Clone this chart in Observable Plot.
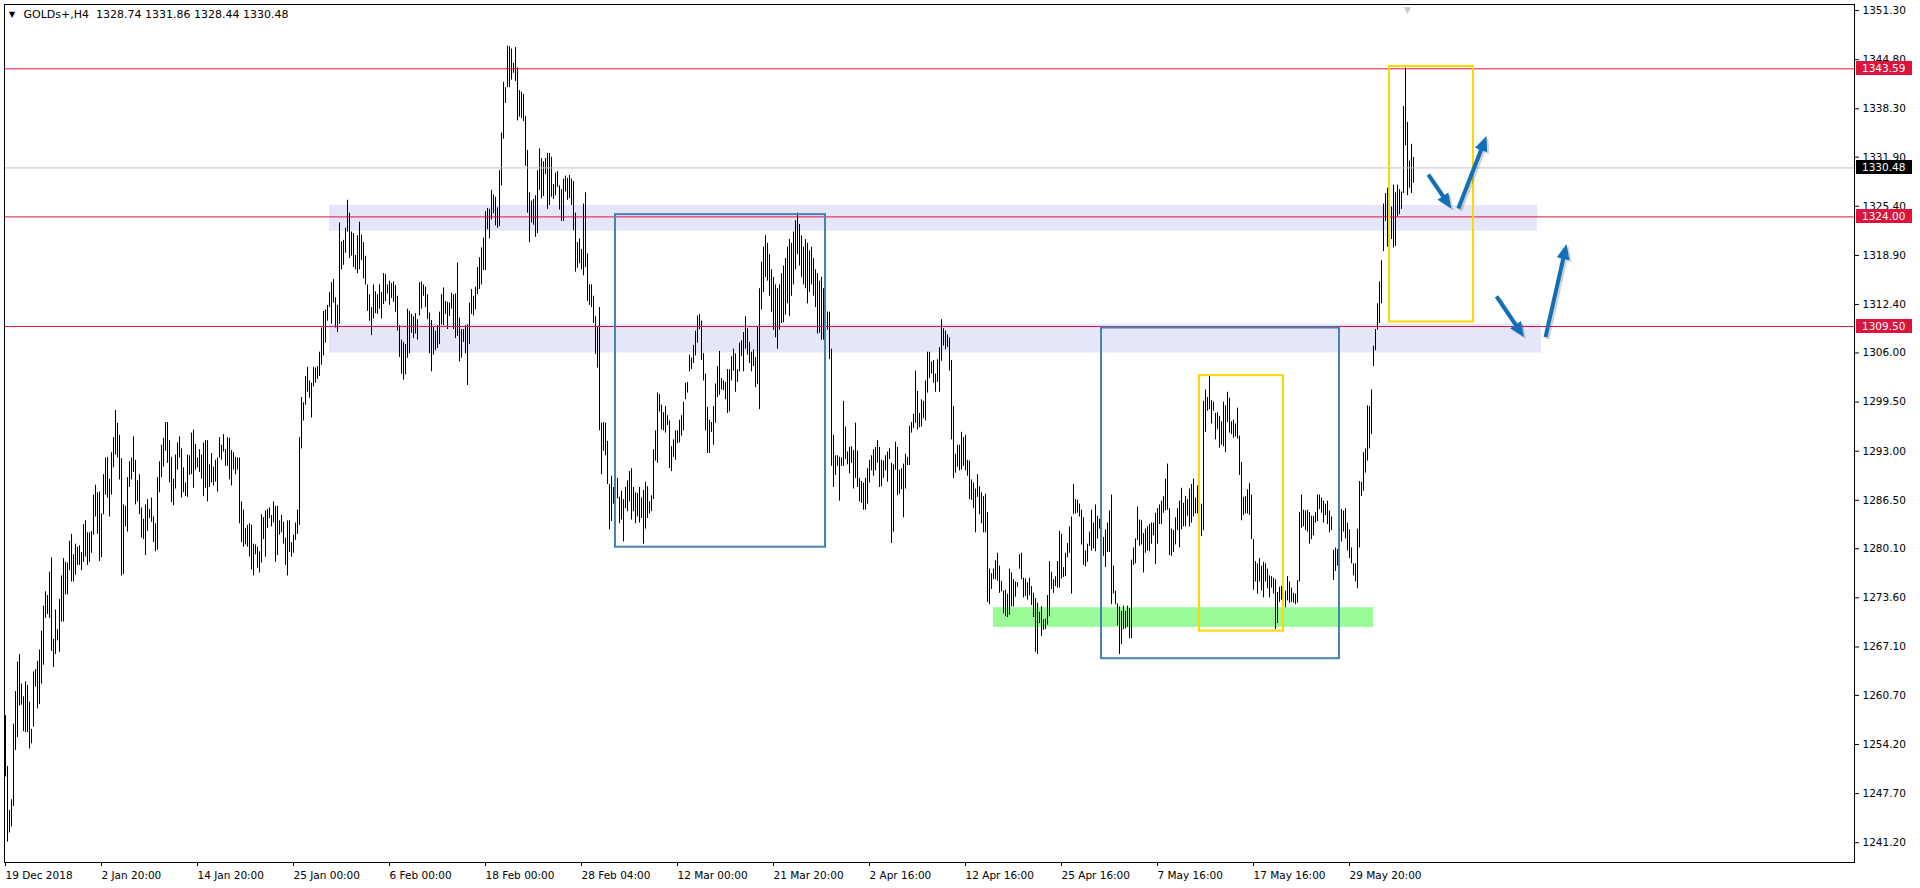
<!DOCTYPE html>
<html><head><meta charset="utf-8">
<script src="https://cdn.jsdelivr.net/npm/d3@7"></script>
<script src="https://cdn.jsdelivr.net/npm/@observablehq/plot@0.6"></script>
<style>html,body{margin:0;padding:0;background:#fff;overflow:hidden}svg{display:block}</style>
</head><body><div id="chart"></div><script>
// H4 bars, in order (bar index 0 = 19 Dec 2018)
const highs = [
1258.0,1251.3,1245.5,1246.9,1256.9,1261.2,1265.1,1266.1,1262.2,1260.5,
1262.5,1262.0,1259.8,1256.2,1263.8,1264.1,1265.2,1266.7,1269.2,1272.5,
1274.4,1273.9,1277.0,1278.9,1268.1,1272.0,1269.4,1273.4,1276.5,1278.8,
1278.3,1278.2,1281.1,1282.0,1279.3,1280.7,1280.3,1280.5,1279.6,1283.3,
1283.8,1282.2,1282.2,1282.4,1287.2,1288.5,1287.5,1287.6,1284.7,1289.9,
1292.1,1292.2,1289.3,1292.8,1294.8,1298.4,1296.7,1295.1,1292.0,1285.9,
1285.7,1289.5,1291.6,1292.1,1294.9,1291.8,1289.1,1289.9,1285.5,1284.0,
1285.9,1286.6,1285.3,1286.8,1284.3,1283.4,1289.5,1291.6,1293.8,1294.7,
1296.8,1296.8,1294.4,1292.2,1289.3,1292.5,1294.1,1294.9,1293.3,1290.8,
1288.8,1292.5,1292.4,1295.4,1295.8,1293.9,1292.1,1293.2,1292.5,1294.1,
1294.4,1294.4,1291.2,1292.7,1290.9,1291.8,1292.1,1294.8,1293.8,1295.2,
1293.2,1294.8,1294.7,1293.1,1292.8,1292.2,1292.1,1292.1,1286.3,1285.2,
1282.8,1283.2,1283.4,1283.2,1280.7,1280.6,1280.3,1279.7,1284.6,1284.2,
1285.1,1285.3,1285.5,1284.5,1286.3,1285.7,1285.7,1283.8,1284.5,1283.6,
1281.5,1283.8,1283.8,1280.9,1281.9,1283.5,1285.2,1294.8,1300.1,1299.4,
1302.9,1304.1,1302.3,1302.0,1304.1,1304.0,1304.2,1306.1,1309.3,1311.5,
1311.7,1312.3,1314.0,1315.3,1315.7,1313.3,1312.3,1323.2,1320.7,1320.9,
1322.5,1326.2,1324.5,1322.0,1321.8,1318.9,1321.5,1323.3,1321.6,1320.6,
1318.8,1315.0,1313.7,1312.0,1315.0,1314.1,1313.7,1315.0,1314.0,1316.5,
1316.4,1315.0,1315.5,1315.2,1315.4,1314.9,1313.5,1309.6,1307.7,1307.4,
1307.1,1311.8,1311.5,1311.1,1310.8,1311.2,1310.4,1315.3,1315.4,1315.0,
1314.7,1313.7,1311.3,1310.3,1309.4,1308.9,1309.6,1311.4,1313.7,1314.6,
1312.8,1312.7,1312.6,1313.9,1313.7,1313.8,1317.9,1310.6,1309.1,1309.1,
1309.6,1309.7,1312.6,1314.4,1313.5,1314.7,1317.3,1318.6,1319.9,1321.2,
1324.7,1325.1,1325.0,1327.5,1326.9,1326.6,1325.2,1330.1,1335.1,1341.8,
1341.1,1346.6,1346.5,1346.2,1344.3,1346.4,1343.7,1340.7,1340.5,1340.2,
1337.3,1332.8,1327.2,1326.1,1326.3,1326.8,1330.1,1333.0,1331.7,1331.3,
1331.7,1332.4,1332.4,1331.9,1328.3,1329.8,1330.0,1328.1,1327.6,1329.0,
1329.4,1329.1,1329.5,1329.0,1328.7,1324.5,1320.6,1321.1,1319.7,1325.7,
1327.2,1319.1,1315.0,1315.0,1313.5,1310.8,1309.4,1312.0,1296.7,1296.8,
1296.7,1294.3,1288.6,1289.7,1288.2,1289.3,1289.4,1286.9,1287.7,1286.6,
1288.2,1289.1,1290.3,1290.7,1288.2,1287.5,1287.4,1288.2,1286.8,1287.8,
1288.9,1288.3,1286.3,1287.1,1293.2,1295.7,1300.7,1300.5,1299.1,1298.1,
1298.9,1297.7,1297.0,1293.6,1294.5,1295.7,1295.7,1297.1,1297.7,1299.5,
1302.0,1302.1,1305.7,1305.3,1307.0,1308.9,1310.9,1311.1,1310.2,1305.9,
1303.2,1298.8,1297.1,1296.8,1298.9,1301.9,1304.2,1306.2,1302.6,1302.3,
1302.1,1303.8,1303.8,1305.5,1306.5,1305.9,1303.8,1307.3,1307.6,1308.7,
1310.8,1309.2,1307.4,1306.1,1306.4,1305.4,1309.4,1314.5,1318.0,1320.0,
1321.5,1320.5,1319.0,1317.0,1316.0,1315.0,1314.5,1315.0,1316.5,1317.5,
1318.5,1320.0,1321.0,1320.5,1322.0,1323.5,1324.5,1323.0,1321.5,1320.0,
1321.0,1320.5,1319.5,1320.0,1318.5,1317.0,1316.5,1315.5,1316.0,1314.5,
1314.0,1311.4,1311.4,1306.5,1295.1,1292.4,1292.4,1292.2,1292.1,1299.6,
1296.2,1292.9,1293.5,1293.6,1293.1,1296.7,1293.0,1289.4,1289.0,1288.8,
1289.4,1290.7,1291.8,1292.4,1293.2,1293.5,1294.4,1293.5,1291.8,1291.7,
1292.4,1292.9,1293.3,1291.4,1291.2,1294.2,1293.5,1290.5,1290.7,1291.3,
1292.6,1292.2,1296.3,1296.8,1297.9,1303.6,1300.9,1298.0,1299.8,1299.6,
1302.3,1306.1,1306.1,1304.8,1305.0,1303.2,1305.1,1306.7,1310.4,1309.2,
1308.9,1308.4,1308.0,1305.0,1298.9,1292.6,1293.8,1293.8,1295.5,1294.8,
1295.1,1291.8,1291.7,1289.2,1288.8,1288.0,1289.9,1288.3,1287.5,1287.0,
1287.3,1284.9,1277.4,1276.8,1277.4,1278.5,1279.5,1277.8,1275.8,1274.5,
1274.6,1274.1,1277.4,1276.9,1276.0,1275.7,1275.6,1279.3,1279.5,1276.2,
1276.1,1275.6,1276.2,1275.1,1274.2,1273.5,1272.9,1271.7,1272.4,1270.7,
1270.8,1273.9,1278.4,1277.0,1276.0,1276.4,1278.4,1282.4,1282.0,1277.6,
1279.5,1280.8,1283.0,1284.3,1288.6,1286.6,1286.5,1286.0,1285.2,1284.2,
1279.8,1280.7,1282.3,1285.2,1283.5,1285.9,1284.4,1284.0,1283.8,1281.6,
1282.6,1283.5,1285.1,1287.2,1277.8,1274.5,1272.8,1272.4,1271.8,1272.5,
1271.8,1272.5,1272.2,1278.6,1280.2,1281.4,1285.6,1283.9,1283.8,1282.1,
1282.7,1283.0,1283.3,1283.5,1283.5,1284.8,1285.4,1285.9,1286.4,1287.0,
1289.3,1291.3,1285.4,1282.7,1282.5,1284.2,1285.4,1286.4,1288.1,1286.1,
1287.0,1286.6,1288.0,1288.6,1289.3,1286.8,1288.4,1284.4,1286.0,1299.6,
1301.1,1300.1,1303.0,1299.7,1299.5,1298.0,1298.1,1297.6,1296.9,1299.5,
1299.0,1300.8,1300.0,1296.9,1297.1,1296.6,1298.7,1295.0,1291.5,1286.9,
1287.0,1287.9,1288.7,1287.2,1281.3,1278.4,1278.1,1278.8,1277.8,1278.3,
1278.1,1277.4,1276.5,1276.4,1276.2,1276.0,1274.3,1275.0,1275.1,1273.9,
1274.5,1276.4,1275.7,1274.9,1274.2,1274.1,1275.9,1284.9,1287.2,1285.2,
1285.1,1285.2,1284.9,1284.4,1284.4,1284.9,1287.2,1287.2,1286.8,1286.4,
1286.0,1286.4,1285.1,1284.3,1279.9,1280.2,1280.0,1281.4,1285.3,1285.1,
1285.4,1283.5,1282.6,1280.2,1278.1,1278.1,1282.7,1289.0,1288.9,1292.8,
1293.3,1299.0,1298.9,1301.1,1306.9,1309.1,1312.5,1315.4,1318.2,1325.7,
1327.1,1327.8,1329.0,1325.3,1328.2,1327.2,1328.2,1327.6,1327.3,1338.6,
1343.7,1336.5,1331.4,1333.6,1331.86
];
const lows = [
1249.9,1241.3,1242.5,1243.3,1246.0,1253.4,1255.1,1259.3,1259.4,1255.9,
1255.8,1255.8,1253.6,1254.3,1256.5,1261.8,1258.9,1259.5,1262.2,1264.7,
1270.9,1271.4,1270.9,1266.5,1264.4,1266.1,1267.9,1266.4,1270.4,1270.4,
1274.0,1274.0,1277.2,1275.7,1275.7,1276.6,1277.9,1277.9,1277.2,1278.3,
1279.0,1277.9,1278.3,1279.5,1281.9,1284.3,1282.0,1278.4,1278.9,1284.6,
1287.2,1286.8,1284.3,1287.2,1290.8,1292.5,1292.1,1289.2,1276.5,1276.7,
1283.0,1282.3,1288.2,1289.2,1290.2,1285.9,1286.3,1284.6,1281.5,1281.3,
1279.2,1282.4,1284.1,1283.6,1280.9,1279.7,1279.9,1287.5,1289.5,1290.9,
1293.0,1291.4,1288.8,1286.2,1285.8,1288.0,1290.5,1292.1,1286.8,1287.5,
1287.0,1286.9,1289.8,1289.9,1288.1,1290.5,1290.8,1290.2,1289.3,1287.0,
1288.1,1286.3,1288.2,1288.8,1288.4,1288.9,1287.6,1292.1,1291.8,1292.9,
1291.0,1291.0,1289.2,1288.4,1290.5,1289.9,1290.5,1283.4,1280.9,1280.3,
1280.6,1280.3,1279.0,1277.3,1276.5,1279.3,1277.5,1276.9,1278.2,1281.3,
1279.0,1282.8,1284.1,1283.0,1283.5,1278.3,1279.2,1281.9,1282.2,1280.7,
1277.9,1276.5,1279.6,1279.0,1279.5,1281.2,1282.0,1283.2,1293.3,1297.0,
1299.1,1300.8,1300.0,1297.4,1301.5,1302.0,1302.5,1302.9,1304.4,1305.6,
1307.3,1310.2,1312.0,1309.8,1312.6,1309.3,1308.7,1309.8,1317.0,1317.6,
1319.2,1322.0,1318.5,1318.8,1317.3,1317.0,1316.5,1317.0,1318.2,1315.8,
1315.0,1311.5,1310.2,1308.3,1310.5,1311.2,1311.1,1311.8,1310.5,1312.4,
1312.8,1313.8,1312.3,1313.2,1312.7,1311.4,1308.9,1305.4,1303.2,1302.4,
1303.1,1305.3,1305.9,1308.6,1307.9,1308.5,1307.7,1310.9,1311.8,1313.5,
1312.0,1310.4,1305.9,1303.5,1305.7,1306.3,1306.6,1307.1,1309.7,1309.6,
1311.1,1309.1,1310.8,1311.8,1309.1,1307.9,1308.2,1304.8,1305.3,1307.4,
1305.9,1301.7,1307.1,1311.1,1310.9,1311.7,1313.7,1314.4,1315.0,1316.9,
1316.9,1322.3,1321.1,1323.6,1324.4,1322.8,1322.5,1322.7,1328.1,1334.3,
1339.0,1341.1,1341.1,1342.1,1343.0,1341.9,1336.7,1337.2,1337.0,1336.6,
1330.7,1324.5,1320.6,1323.2,1322.9,1321.3,1321.8,1327.5,1326.4,1326.7,
1329.6,1325.0,1325.5,1326.6,1326.3,1326.8,1327.9,1324.9,1323.4,1323.4,
1327.3,1326.2,1326.4,1325.5,1322.2,1316.7,1317.2,1317.8,1317.0,1316.2,
1317.3,1312.8,1312.3,1312.0,1309.9,1305.8,1304.0,1295.7,1289.9,1293.0,
1292.4,1288.6,1282.6,1283.7,1286.0,1286.2,1286.7,1283.4,1283.9,1281.0,
1285.4,1285.0,1286.3,1283.9,1285.0,1283.4,1284.3,1283.5,1284.1,1280.7,
1282.7,1284.1,1284.7,1285.0,1286.6,1291.7,1291.4,1298.2,1295.8,1295.7,
1295.4,1296.4,1290.7,1290.3,1292.2,1291.8,1294.0,1294.1,1295.0,1295.7,
1299.8,1300.7,1303.5,1303.8,1304.6,1305.6,1307.3,1309.1,1305.0,1302.3,
1295.7,1292.7,1292.7,1295.5,1293.8,1296.7,1300.1,1300.4,1301.1,1301.0,
1299.8,1298.0,1298.2,1302.3,1303.6,1300.8,1302.1,1303.5,1305.5,1303.5,
1306.5,1305.7,1304.6,1303.5,1304.2,1301.4,1301.8,1298.5,1311.7,1314.0,
1316.0,1315.5,1313.5,1311.4,1309.0,1308.0,1306.5,1309.0,1309.9,1310.0,
1311.0,1312.5,1310.8,1313.5,1315.0,1317.0,1319.0,1317.5,1316.0,1315.0,
1314.5,1312.5,1314.0,1315.0,1313.5,1312.0,1308.5,1308.6,1307.7,1307.7,
1307.7,1309.0,1305.1,1291.0,1288.2,1289.8,1291.0,1286.4,1291.0,1291.0,
1291.9,1291.2,1290.0,1291.4,1288.0,1289.4,1288.2,1286.3,1286.1,1285.2,
1285.2,1286.0,1288.8,1290.4,1289.7,1290.4,1291.4,1288.2,1288.3,1289.4,
1290.4,1288.9,1291.9,1280.8,1282.3,1290.5,1287.1,1287.3,1287.9,1284.2,
1288.0,1291.1,1291.1,1295.4,1296.0,1296.7,1295.8,1296.1,1296.2,1297.3,
1297.0,1300.7,1302.6,1303.2,1302.0,1300.8,1302.1,1300.8,1304.9,1306.9,
1306.4,1306.7,1303.6,1294.5,1289.4,1290.1,1290.9,1290.4,1290.5,1291.0,
1290.4,1289.7,1286.6,1286.5,1285.4,1282.2,1286.9,1284.6,1283.4,1282.2,
1282.2,1273.0,1272.7,1274.7,1276.0,1276.0,1275.8,1274.2,1274.4,1271.5,
1271.1,1271.0,1271.3,1272.4,1272.4,1273.7,1275.0,1277.4,1276.0,1273.6,
1273.8,1273.3,1273.9,1272.6,1271.0,1266.4,1266.1,1270.2,1268.5,1269.3,
1269.4,1270.0,1271.1,1274.7,1274.2,1275.1,1274.9,1274.9,1276.1,1276.3,
1276.4,1278.9,1279.5,1274.1,1284.6,1284.7,1284.8,1284.3,1280.6,1277.9,
1277.7,1278.3,1280.4,1279.8,1280.1,1279.7,1281.4,1282.7,1280.6,1279.1,
1277.6,1279.6,1279.6,1272.7,1274.1,1272.7,1269.9,1266.1,1267.4,1269.4,
1269.5,1269.7,1268.2,1268.2,1277.9,1278.1,1281.2,1280.4,1280.6,1276.9,
1279.5,1279.8,1279.7,1280.7,1281.8,1278.0,1280.7,1283.3,1283.3,1284.8,
1285.1,1285.2,1279.2,1279.1,1279.6,1280.6,1282.5,1280.2,1282.6,1283.0,
1283.0,1284.4,1283.0,1283.5,1284.3,1284.7,1284.7,1281.4,1281.7,1282.5,
1295.5,1298.3,1298.5,1296.6,1298.3,1294.5,1295.9,1293.4,1293.8,1293.6,
1292.8,1296.8,1295.4,1295.2,1294.7,1294.9,1294.6,1289.8,1283.8,1284.5,
1284.7,1284.7,1284.5,1281.3,1274.6,1275.7,1274.1,1275.7,1274.5,1273.6,
1275.7,1274.8,1273.6,1274.9,1274.1,1269.4,1270.2,1273.0,1273.3,1272.8,
1272.3,1273.2,1272.9,1273.0,1272.9,1272.7,1272.9,1275.7,1282.8,1283.0,
1282.5,1282.3,1280.7,1281.3,1281.8,1283.5,1283.7,1285.3,1284.8,1283.5,
1284.5,1283.3,1282.2,1282.5,1275.9,1277.1,1277.8,1278.1,1281.0,1282.3,
1281.4,1279.8,1278.8,1278.1,1276.5,1275.7,1274.8,1280.2,1287.0,1287.7,
1290.1,1291.7,1293.3,1295.2,1304.2,1306.3,1309.0,1309.9,1312.5,1319.4,
1323.4,1320.0,1322.4,1321.0,1319.9,1320.1,1324.0,1324.3,1325.0,1327.1,
1333.4,1326.8,1327.8,1327.1,1328.44
];

const yTicks = [1351.30,1344.80,1338.30,1331.90,1325.40,1318.90,1312.40,1306.00,1299.50,1293.00,1286.50,1280.10,1273.60,1267.10,1260.70,1254.20,1247.70,1241.20];
const xTickIdx = [0,48,96,144,192,240,288,336,384,432,480,528,576,624,672];
const xTickLabels = ["19 Dec 2018","2 Jan 20:00","14 Jan 20:00","25 Jan 00:00","6 Feb 00:00","18 Feb 00:00","28 Feb 04:00","12 Mar 00:00","21 Mar 20:00","2 Apr 16:00","12 Apr 16:00","25 Apr 16:00","7 May 16:00","17 May 16:00","29 May 20:00"];

const symbolInfo = ["GOLDs+,H4  1328.74 1331.86 1328.44 1330.48"];
const redLevels = [1343.59, 1324.00, 1309.50];
const currentPrice = [1330.48];
const shiftMarker = [701];

// annotation objects in (bar index, price)
const lavenderZones = [
  {from:162, to:766, lo:1322.1, hi:1325.5},
  {from:162, to:768, lo:1306.0, hi:1309.8}
];
const greenZones = [{from:494, to:684, lo:1269.7, hi:1272.3}];
const blueBoxes = [
  {from:305, to:410, lo:1280.3, hi:1324.3},
  {from:548, to:667, lo:1265.55, hi:1309.3}
];
const yellowBoxes = [
  {from:597, to:639, lo:1269.2, hi:1303.0},
  {from:692, to:734, lo:1310.1, hi:1343.9}
];
const arrowsData = [
  {i1:711.4, p1:1329.6, i2:722.9, p2:1325.1},
  {i1:726.4, p1:1325.1, i2:740.5, p2:1334.7},
  {i1:745.5, p1:1313.5, i2:759.2, p2:1308.1},
  {i1:770.0, p1:1308.1, i2:780.5, p2:1320.4}
];
const priceTags = [1343.59, 1330.48, 1324.00, 1309.50];
const priceTagKinds = ["level","current","level","level"];

const bars = highs.map((h, i) => ({i, high: h, low: lows[i]}));
const labelMap = new Map(xTickIdx.map((d, k) => [d, xTickLabels[k]]));

const FONT = "'DejaVu Sans', Verdana, sans-serif";
const base = {
  width: 1920, height: 888,
  marginTop: 4, marginBottom: 26, marginLeft: 4, marginRight: 66,
  x: {type: "linear", domain: [-0.5, 924.5], label: null},
  y: {type: "linear", domain: [1238.59, 1352.1], label: null}
};

// first pass: read the scales to orient the arrow shapes in screen space
const pre = Plot.plot({...base, marks: [Plot.frame()]});
const px = pre.scale("x"), py = pre.scale("y");
const arrowVecs = arrowsData.map(a => {
  const dx = px.apply(a.i2) - px.apply(a.i1);
  const dy = py.apply(a.p2) - py.apply(a.p1);
  return {i: a.i1, p: a.p1, len: Math.hypot(dx, dy), rot: Math.atan2(dx, -dy) * 180 / Math.PI};
});
const arrowShape = {
  draw(ctx, l) {
    const hl = 15, hw = 6.5, sw = 2;
    ctx.moveTo(-sw, 0);
    ctx.lineTo(-sw, -l + hl);
    ctx.lineTo(-hw, -l + hl);
    ctx.lineTo(0, -l);
    ctx.lineTo(hw, -l + hl);
    ctx.lineTo(sw, -l + hl);
    ctx.lineTo(sw, 0);
    ctx.closePath();
  }
};

const plot = Plot.plot({
  ...base,
  length: {type: "linear", domain: [0, 1], range: [0, 1]},
  style: {fontFamily: FONT, fontSize: "10.5px", color: "#000", background: "#fff"},
  marks: [
    Plot.rect(lavenderZones, {x1: "from", x2: "to", y1: "lo", y2: "hi", fill: "#e6e6fa"}),
    Plot.rect(greenZones, {x1: "from", x2: "to", y1: "lo", y2: "hi", fill: "#98fb98"}),
    Plot.ruleX(bars, {x: "i", y1: "low", y2: "high", stroke: "#000", strokeWidth: 1}),
    Plot.ruleY(currentPrice, {stroke: "#c0c0c0"}),
    Plot.ruleY(redLevels, {stroke: "#dc143c"}),
    Plot.rect(blueBoxes, {x1: "from", x2: "to", y1: "lo", y2: "hi", fill: "none", stroke: "#4682b4", strokeWidth: 2}),
    Plot.rect(yellowBoxes, {x1: "from", x2: "to", y1: "lo", y2: "hi", fill: "none", stroke: "#ffd700", strokeWidth: 2}),
    Plot.vector(arrowVecs, {x: "i", y: "p", length: "len", rotate: "rot", anchor: "start", shape: arrowShape, fill: "#000", fillOpacity: 0.18, stroke: "none", dx: 2, dy: 2}),
    Plot.vector(arrowVecs, {x: "i", y: "p", length: "len", rotate: "rot", anchor: "start", shape: arrowShape, fill: "#0f70b8", stroke: "none"}),
    Plot.frame({stroke: "#000"}),
    Plot.axisY({anchor: "right", ticks: yTicks, tickFormat: d => d.toFixed(2), tickSize: 4, tickPadding: 4, label: null}),
    Plot.axisX({anchor: "bottom", ticks: xTickIdx, tickFormat: d => labelMap.get(d), tickSize: 4, tickPadding: 5, textAnchor: "start", label: null}),
    Plot.text(symbolInfo, {frameAnchor: "top-left", text: d => d, dx: 19, dy: 6, textAnchor: "start", lineAnchor: "top", fontSize: 11, fill: "#000"}),
    Plot.text(symbolInfo, {frameAnchor: "top-left", text: () => "\u25BC", dx: 7.5, dy: 10, textAnchor: "middle", lineAnchor: "middle", fontSize: 8, fill: "#000"}),
    Plot.text(shiftMarker, {x: d => d, frameAnchor: "top", text: () => "\u25BC", dy: 2, lineAnchor: "top", fontSize: 9, fill: "#c8c8c8"})
  ]
});

// price tags on the right axis, placed through the plot's own y scale
const ySc = plot.scale("y");
const xSc = plot.scale("x");
const tagX = xSc.range[1] + 2;
const g = d3.select(plot).append("g").attr("text-anchor", "start");
priceTags.forEach((v, k) => {
  const yy = ySc.apply(v);
  g.append("rect").attr("x", tagX).attr("y", Math.round(yy) - 7).attr("width", 56).attr("height", 14)
    .attr("fill", priceTagKinds[k] === "current" ? "#000" : "#dc143c");
  g.append("text").attr("x", tagX + 6).attr("y", yy).attr("dy", "0.36em").attr("text-anchor", "start")
    .attr("fill", "#fff").attr("font-family", FONT).attr("font-size", "10.5px").text(v.toFixed(2));
});

document.getElementById("chart").appendChild(plot);
</script></body></html>
